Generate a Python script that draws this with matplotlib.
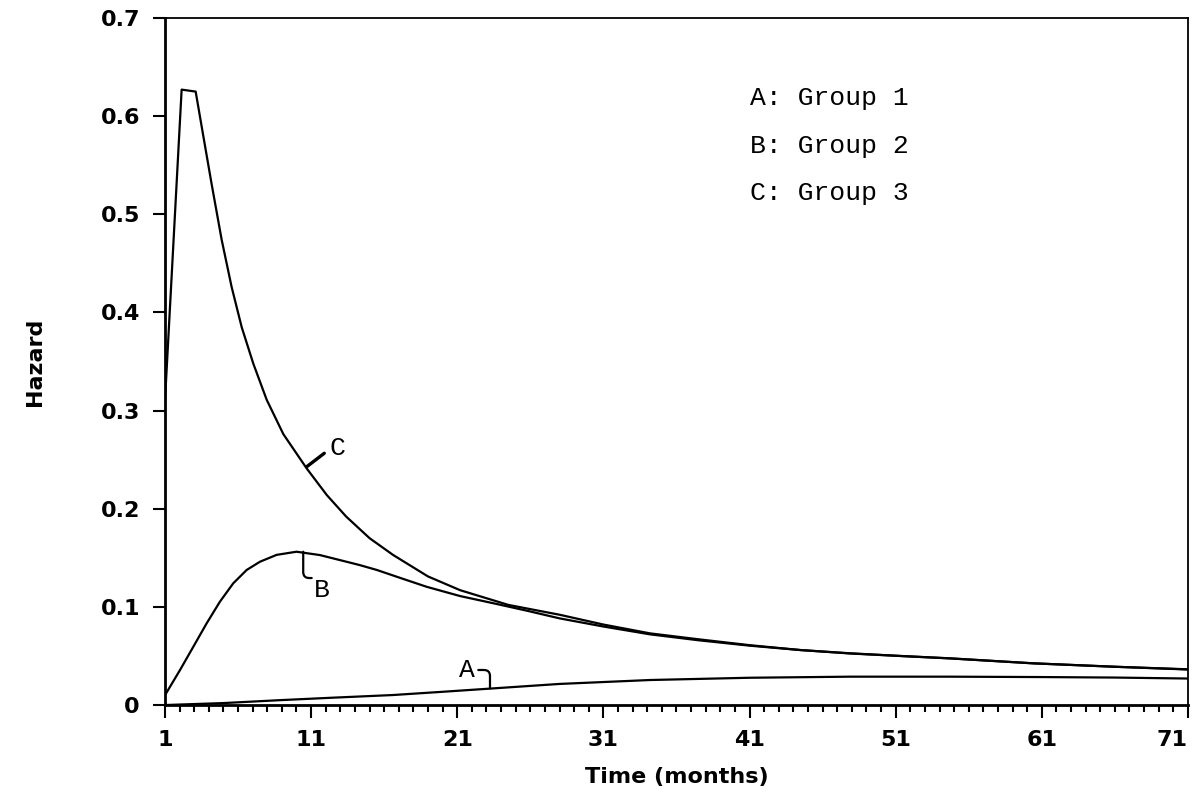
#hazard curves for three groups over time (months)
import matplotlib
matplotlib.use("Agg")
import matplotlib.pyplot as plt

#values
months_a = [1, 5, 8.9, 12.5, 16.6, 20, 23.5, 28, 34.2, 41, 47.9, 54.7, 61, 66, 71]
hazard_a = [0.0, 0.002, 0.005, 0.0075, 0.0102, 0.0135, 0.017, 0.0215, 0.0255, 0.0278,
            0.0289, 0.0289, 0.0285, 0.028, 0.027]

months_b = [1, 2.03, 2.94, 3.85, 4.76, 5.67, 6.59, 7.5, 8.64, 10.0, 11.6, 14.3, 15.5,
            17.2, 18.9, 21.2, 23.5, 25.8, 28.0, 31, 34.2, 37.5, 41, 44.5, 47.9, 51.3, 54.7,
            60.4, 66, 71]
hazard_b = [0.010, 0.0357, 0.0594, 0.0832, 0.1053, 0.124, 0.1376, 0.146, 0.153, 0.1562,
            0.1528, 0.1427, 0.1376, 0.129, 0.1205, 0.111, 0.1036, 0.096, 0.0883, 0.080,
            0.072, 0.066, 0.0605, 0.056, 0.0525, 0.050, 0.0475, 0.0425, 0.039, 0.0362]

months_c = [1, 2.14, 3.1, 3.62, 4.19, 4.88, 5.56, 6.25, 7.04, 7.96, 9.1, 10.7, 12.07, 13.4,
            15.0, 16.6, 19.0, 21.2, 24.5, 28.0, 31, 34.2, 37.5, 41, 44.5, 47.9, 51.3, 54.7,
            60.4, 66, 71]
hazard_c = [0.31, 0.627, 0.625, 0.580, 0.531, 0.474, 0.426, 0.385, 0.348, 0.311, 0.276,
            0.241, 0.214, 0.192, 0.170, 0.153, 0.131, 0.117, 0.102, 0.092, 0.082, 0.073,
            0.067, 0.061, 0.056, 0.0527, 0.050, 0.0476, 0.0425, 0.039, 0.0364]

legend_lines = ["A: Group 1", "B: Group 2", "C: Group 3"]
x_ticks = [1, 11, 21, 31, 41, 51, 61, 71]
y_ticks = [0, 0.1, 0.2, 0.3, 0.4, 0.5, 0.6, 0.7]
y_labels = ["0", "0.1", "0.2", "0.3", "0.4", "0.5", "0.6", "0.7"]

fig = plt.figure(figsize=(11.92, 8.02), dpi=100)
ax = fig.add_axes([0.1384, 0.1209, 0.8582, 0.8567])

for m, h in [(months_a, hazard_a), (months_b, hazard_b), (months_c, hazard_c)]:
    ax.plot(m, h, color="black", lw=1.6)

ax.set_xlim(1, 71)
ax.set_ylim(0, 0.7)

#axis styling, plain boxed plot
for side in ["left", "bottom"]:
    ax.spines[side].set_linewidth(2)
for side in ["top", "right"]:
    ax.spines[side].set_linewidth(1.3)

ax.set_xticks(x_ticks)
ax.set_xticks(range(1, 72), minor=True)
ax.set_yticks(y_ticks)
ax.set_yticklabels(y_labels)
ax.tick_params(axis="x", which="major", direction="out", length=9, width=1.5, pad=9,
               labelsize=16)
ax.tick_params(axis="x", which="minor", direction="out", length=5, width=1.5)
ax.tick_params(axis="y", which="major", direction="out", length=9, width=1.5, pad=9,
               labelsize=16)
for lbl in ax.get_xticklabels() + ax.get_yticklabels():
    lbl.set_fontweight("bold")
#last label sits flush with the right edge
ax.get_xticklabels()[-1].set_horizontalalignment("right")

ax.set_xlabel("Time (months)", fontsize=16, fontweight="bold", labelpad=12)
ax.set_ylabel("Hazard", fontsize=16, fontweight="bold", labelpad=40)

#legend typed as text
mono = "Liberation Mono"
for i, txt in enumerate(legend_lines):
    ax.text(0.572, 0.8836 - i * 0.0693, txt, transform=ax.transAxes, fontsize=19,
            family=mono, va="center", ha="left")

#curve labels with little hooks
ax.text(12.77, 0.2619, "C", fontsize=19, family=mono, va="center", ha="center")
ax.annotate("", xy=(10.7, 0.2428), xytext=(11.9, 0.2565),
            arrowprops=dict(arrowstyle="-", lw=2.4, shrinkA=0, shrinkB=0))

ax.text(11.72, 0.1172, "B", fontsize=19, family=mono, va="center", ha="center")
ax.annotate("", xy=(10.46, 0.1562), xytext=(11.04, 0.1294),
            arrowprops=dict(arrowstyle="-", lw=1.6, shrinkA=0, shrinkB=0,
                            connectionstyle="angle,angleA=0,angleB=90,rad=6"))

ax.text(21.64, 0.0357, "A", fontsize=19, family=mono, va="center", ha="center")
ax.annotate("", xy=(23.24, 0.017), xytext=(22.44, 0.0357),
            arrowprops=dict(arrowstyle="-", lw=1.6, shrinkA=0, shrinkB=0,
                            connectionstyle="angle,angleA=0,angleB=90,rad=6"))

fig.savefig("out.png", dpi=100)
